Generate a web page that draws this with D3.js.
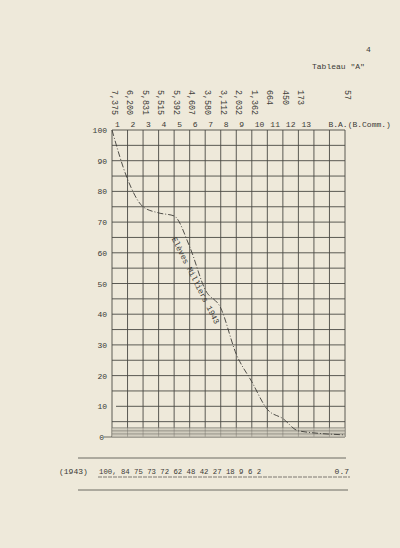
<!DOCTYPE html>
<html>
<head>
<meta charset="utf-8">
<script src="https://cdn.jsdelivr.net/npm/d3@7/dist/d3.min.js"></script>
<style>
  body { margin: 0; background: #ece7d7; }
  text { font-family: "Liberation Mono", "DejaVu Sans Mono", monospace; fill: #3b3a36; }
</style>
</head>
<body>
<div class="tableau"></div>
<script>
// grades (années) and B.A.
var grades = ["1","2","3","4","5","6","7","8","9","10","11","12","13","B.A."]
// number of pupils per grade
var eleves = [7375, 6200, 5831, 5515, 5392, 4607, 3580, 3112, 2032, 1362, 664, 450, 173, 57]
// percentage of grade 1 (1943)
var pct1943 = [100, 84, 75, 73, 72, 62, 48, 42, 27, 18, 9, 6, 2, 0.7]
var yTicks = [0, 10, 20, 30, 40, 50, 60, 70, 80, 90, 100]

var width = 400
var height = 548

var svg = d3.select('.tableau')
  .append('svg')
  .attr('width', width)
  .attr('height', height)

svg.append('rect')
  .attr('width', width)
  .attr('height', height)
  .attr('fill', '#eee9da')

// two empty columns sit between 13 and B.A.
var cols = grades.slice(0, 13).concat(['_a', '_b'], ['B.A.'])
var x = d3.scalePoint().domain(cols).range([112, 345])
var y = d3.scaleLinear().domain([0, 100]).range([437, 130])

var ink = '#4a4944'

// header
svg.append('text').attr('x', 366).attr('y', 52).attr('font-size', 8).text('4')
svg.append('text').attr('x', 312).attr('y', 69).attr('font-size', 8).text('Tableau "A"')

// grid
var g = svg.append('g')
g.selectAll('line.v')
  .data(cols)
  .enter()
  .append('line')
  .attr('class', 'v')
  .attr('x1', d => x(d)).attr('x2', d => x(d))
  .attr('y1', y(100)).attr('y2', y(0))
  .attr('stroke', ink)
  .attr('stroke-width', 0.9)

g.selectAll('line.h')
  .data(d3.range(0, 101, 5))
  .enter()
  .append('line')
  .attr('class', 'h')
  .attr('x1', d => d == 10 ? x('1') + 4 : x('1'))
  .attr('x2', x('B.A.'))
  .attr('y1', d => y(d)).attr('y2', d => y(d))
  .attr('stroke', ink)
  .attr('stroke-width', 0.9)

// shaded bottom band
g.append('rect')
  .attr('x', x('1')).attr('y', y(3))
  .attr('width', x('B.A.') - x('1')).attr('height', y(0) - y(3))
  .attr('fill', '#c4c0b3').attr('opacity', 0.7)
g.selectAll('line.b')
  .data([1, 2, 3])
  .enter()
  .append('line')
  .attr('class', 'b')
  .attr('x1', x('1')).attr('x2', x('B.A.'))
  .attr('y1', d => y(d)).attr('y2', d => y(d))
  .attr('stroke', '#6f6c64')
  .attr('stroke-width', 0.6)

// y labels
svg.selectAll('text.yl')
  .data(yTicks)
  .enter()
  .append('text')
  .attr('class', 'yl')
  .attr('x', d => d == 0 ? 104 : 107)
  .attr('y', d => y(d) + 3)
  .attr('text-anchor', 'end')
  .attr('font-size', 8)
  .text(d => d)
svg.append('line')
  .attr('x1', 104).attr('x2', x('1'))
  .attr('y1', y(0)).attr('y2', y(0))
  .attr('stroke', ink).attr('stroke-width', 0.8)

// column numbers
svg.selectAll('text.cn')
  .data(grades.slice(0, 13))
  .enter()
  .append('text')
  .attr('class', 'cn')
  .attr('x', d => x(d) + 3)
  .attr('y', 127)
  .attr('font-size', 8)
  .text(d => d)
svg.append('text').attr('x', x('_b') - 1).attr('y', 127).attr('font-size', 8).text('B.A.(B.Comm.)')

// pupil counts, typed sideways
svg.selectAll('text.ct')
  .data(eleves)
  .enter()
  .append('text')
  .attr('class', 'ct')
  .attr('transform', (d, i) => 'translate(' + (x(grades[i]) + 2) + ',90) rotate(90)')
  .attr('dominant-baseline', 'middle')
  .attr('font-size', 8.3)
  .text(d => d3.format(',')(d))

// curve
var line = d3.line()
  .x((d, i) => x(grades[i]))
  .y(d => y(d))
  .curve(d3.curveMonotoneX)

svg.append('path')
  .datum(pct1943)
  .attr('d', line)
  .attr('fill', 'none')
  .attr('stroke', '#3e3d39')
  .attr('stroke-width', 0.9)
  .attr('stroke-dasharray', '6,2,1,2')

var ang = Math.atan2(y(42) - y(62), x('8') - x('6')) * 180 / Math.PI
svg.append('text')
  .attr('transform', 'translate(' + (x('7') - 12) + ',' + (y(48) - 8) + ') rotate(' + ang + ')')
  .attr('text-anchor', 'middle')
  .attr('font-size', 8)
  .text('Elèves Milliers 1943')

// typed row below
svg.append('line').attr('x1', 78).attr('x2', 346).attr('y1', 458).attr('y2', 458)
  .attr('stroke', ink).attr('stroke-width', 0.8)
svg.append('text').attr('x', 59).attr('y', 474).attr('font-size', 8).text('(1943)')
var rowText = pct1943.slice(0, 13).map((d, i) => i == 0 ? d + ',' : d).join(' ')
svg.append('text').attr('x', 99).attr('y', 474).attr('font-size', 7.3)
  .attr('xml:space', 'preserve')
  .text(rowText)
svg.append('text').attr('x', x('B.A.') + 4).attr('y', 474).attr('font-size', 8)
  .attr('text-anchor', 'end')
  .text(pct1943[13])
svg.append('line').attr('x1', 98).attr('x2', 350).attr('y1', 477).attr('y2', 477)
  .attr('stroke', ink).attr('stroke-width', 0.7).attr('stroke-dasharray', '4,1')
svg.append('line').attr('x1', 78).attr('x2', 348).attr('y1', 490).attr('y2', 490)
  .attr('stroke', ink).attr('stroke-width', 0.8)
</script>
</body>
</html>
